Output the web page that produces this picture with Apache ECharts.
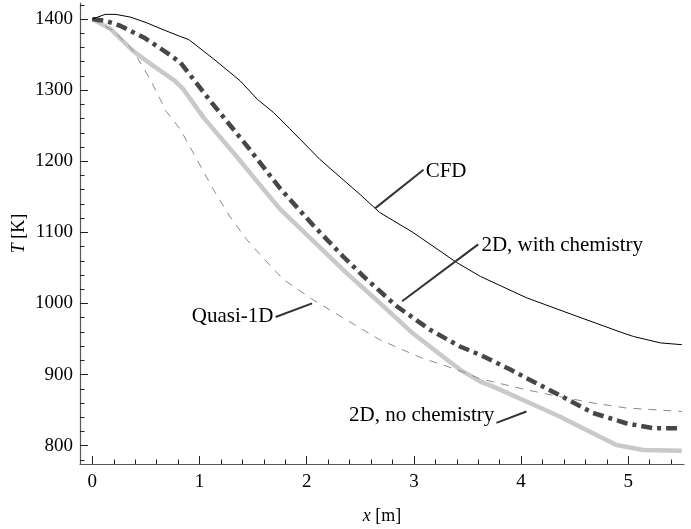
<!DOCTYPE html>
<html>
<head>
<meta charset="utf-8">
<script src="https://cdn.jsdelivr.net/npm/echarts@6/dist/echarts.min.js"></script>
<style>
  html, body { margin: 0; padding: 0; background: #fff; }
  #chart { width: 691px; height: 529px; }
</style>
</head>
<body>
<div id="chart"></div>
<script>
// Temperature along the nozzle, T [K] vs x [m]
const cfdX = [0, 0.12, 0.22, 0.36, 0.51, 0.66, 0.82, 0.90, 1.13, 1.38, 1.54, 1.69, 1.84, 2.12, 2.37, 2.50, 2.68, 2.99, 3.40, 3.62, 4.05, 4.52, 4.95, 5.05, 5.30, 5.50];
const cfdT = [1400, 1406.5, 1406.5, 1402.5, 1394.5, 1385, 1375.5, 1371, 1344, 1313, 1287, 1268.5, 1246, 1203, 1170, 1153, 1128, 1100, 1057.5, 1038, 1008, 982, 958.5, 953.5, 944.5, 942];

const chemX = [0, 0.12, 0.26, 0.48, 0.69, 0.82, 0.94, 1.11, 1.44, 1.75, 2.06, 2.34, 2.53, 2.84, 3.15, 3.43, 3.62, 3.90, 4.05, 4.36, 4.67, 4.98, 5.23, 5.50];
const chemT = [1400, 1397.5, 1390.5, 1374, 1353, 1339, 1316, 1283, 1222, 1162, 1110, 1066, 1038, 996, 963, 939.5, 927.5, 907, 895, 871, 846, 831.5, 824.5, 824.5];

const noChemX = [0, 0.17, 0.38, 0.57, 0.77, 0.85, 1.04, 1.35, 1.60, 1.75, 2.06, 2.37, 2.68, 2.99, 3.27, 3.43, 3.62, 3.74, 4.05, 4.36, 4.67, 4.89, 5.14, 5.50];
const noChemT = [1400, 1386, 1355, 1334, 1313, 1301, 1261, 1206, 1160, 1133, 1088, 1043, 1001, 958, 925.5, 907, 890, 883, 862, 841, 817.5, 801, 794, 793];

const quasiX = [0, 0.2, 0.38, 0.54, 0.69, 0.82, 0.97, 1.13, 1.28, 1.44, 1.58, 1.78, 2.06, 2.37, 2.68, 3.06, 3.40, 3.62, 4.05, 4.36, 4.67, 4.98, 5.50];
const quasiT = [1400, 1383, 1356, 1315, 1270, 1245, 1204, 1160, 1123, 1090, 1066, 1034, 1005, 977, 949, 924, 907, 894, 878.5, 869, 860, 853, 848];

// Tick positions
const xMajorTicks = [0, 1, 2, 3, 4, 5];
const xMinorTicks = [0.2, 0.4, 0.6, 0.8, 1.2, 1.4, 1.6, 1.8, 2.2, 2.4, 2.6, 2.8, 3.2, 3.4, 3.6, 3.8, 4.2, 4.4, 4.6, 4.8, 5.2, 5.4];
const yMajorTicks = [800, 900, 1000, 1100, 1200, 1300, 1400];
const yMinorTicks = [780, 820, 840, 860, 880, 920, 940, 960, 980, 1020, 1040, 1060, 1080, 1120, 1140, 1160, 1180, 1220, 1240, 1260, 1280, 1320, 1340, 1360, 1380, 1420];

// Curve labels with leader lines, in data coordinates
const labelTexts = ['CFD', '2D, with chemistry', 'Quasi-1D', '2D, no chemistry'];
const labelFrom = [[2.64, 1134], [2.89, 1003], [2.05, 1000], [4.05, 848]];
const labelTo = [[3.09, 1188], [3.60, 1083], [1.71, 981], [3.77, 832]];
const labelAt = [[3.11, 1186], [3.63, 1081], [1.69, 981], [3.75, 842]];
const labelAlign = ['left', 'left', 'right', 'right'];

const X_MIN = -0.115, X_MAX = 5.52;
const Y_MIN = 774.2, Y_MAX = 1422.5;

const FONT = '"Liberation Serif", "Times New Roman", serif';
const zip = (xs, ys) => xs.map((x, i) => [x, ys[i]]);
const plain = v => String(v);

const chart = echarts.init(document.getElementById('chart'), null, { renderer: 'canvas' });

const axisLineStyle = { color: '#5a5a5a', width: 1.2 };
const tickStyle = { color: '#222', width: 1 };
const baseX = {
  type: 'value', min: X_MIN, max: X_MAX, position: 'bottom',
  splitLine: { show: false }
};
const baseY = {
  type: 'value', min: Y_MIN, max: Y_MAX, position: 'left',
  splitLine: { show: false }
};
const nameStyle = {
  fontFamily: FONT, fontSize: 18, color: '#000',
  rich: { it: { fontFamily: FONT, fontSize: 18, fontStyle: 'italic', color: '#000' } }
};

chart.setOption({
  animation: false,
  backgroundColor: '#fff',
  grid: { left: 80, right: 7, top: 3, bottom: 65, containLabel: false, outerBoundsMode: 'none' },
  xAxis: [
    Object.assign({}, baseX, {
      name: '{it|x} [m]',
      nameLocation: 'middle',
      nameGap: 43,
      nameMoveOverlap: false,
      nameTextStyle: nameStyle,
      axisLine: { show: true, onZero: false, lineStyle: axisLineStyle },
      axisTick: { show: true, inside: true, length: 8, customValues: xMajorTicks, lineStyle: tickStyle },
      axisLabel: { show: true, customValues: xMajorTicks, formatter: plain, margin: 9, fontFamily: FONT, fontSize: 19, color: '#000' }
    }),
    Object.assign({}, baseX, {
      axisLine: { show: false, onZero: false },
      axisTick: { show: true, inside: true, length: 4.5, customValues: xMinorTicks, lineStyle: tickStyle },
      axisLabel: { show: false }
    })
  ],
  yAxis: [
    Object.assign({}, baseY, {
      name: '{it|T} [K]',
      nameLocation: 'middle',
      nameGap: 52,
      nameMoveOverlap: false,
      nameTextStyle: nameStyle,
      axisLine: { show: true, onZero: false, lineStyle: axisLineStyle },
      axisTick: { show: true, inside: true, length: 8, customValues: yMajorTicks, lineStyle: tickStyle },
      axisLabel: { show: true, customValues: yMajorTicks, formatter: plain, margin: 7, fontFamily: FONT, fontSize: 19, color: '#000' }
    }),
    Object.assign({}, baseY, {
      axisLine: { show: false, onZero: false },
      axisTick: { show: true, inside: true, length: 4.5, customValues: yMinorTicks, lineStyle: tickStyle },
      axisLabel: { show: false }
    })
  ],
  series: [
    {
      name: '2D, no chemistry', type: 'line', data: zip(noChemX, noChemT),
      showSymbol: false, silent: true, z: 2,
      lineStyle: { color: '#c9c9c9', width: 4.5, cap: 'butt', join: 'round' }
    },
    {
      name: 'Quasi-1D', type: 'line', data: zip(quasiX, quasiT),
      showSymbol: false, silent: true, z: 3,
      lineStyle: { color: '#8a8a8a', width: 1, type: [8, 7] }
    },
    {
      name: '2D, with chemistry', type: 'line', data: zip(chemX, chemT),
      showSymbol: false, silent: true, z: 4,
      lineStyle: { color: '#474747', width: 4.5, type: [11, 5, 4, 5], cap: 'butt' }
    },
    {
      name: 'CFD', type: 'line', data: zip(cfdX, cfdT),
      showSymbol: false, silent: true, z: 5,
      lineStyle: { color: '#000', width: 1 }
    }
  ]
});

// Place curve labels and their leader lines through the axis scales
const toPx = p => chart.convertToPixel({ xAxisIndex: 0, yAxisIndex: 0 }, p);
const graphics = [];
labelTexts.forEach((txt, i) => {
  const a = toPx(labelFrom[i]);
  const b = toPx(labelTo[i]);
  const t = toPx(labelAt[i]);
  graphics.push({
    type: 'line', silent: true, z: 10,
    shape: { x1: a[0], y1: a[1], x2: b[0], y2: b[1] },
    style: { stroke: '#333', lineWidth: 2 }
  });
  graphics.push({
    type: 'text', silent: true, z: 10,
    x: t[0], y: t[1],
    style: { text: txt, font: '21px ' + FONT, fill: '#000', align: labelAlign[i], verticalAlign: 'middle' }
  });
});
chart.setOption({ graphic: graphics });
</script>
</body>
</html>
